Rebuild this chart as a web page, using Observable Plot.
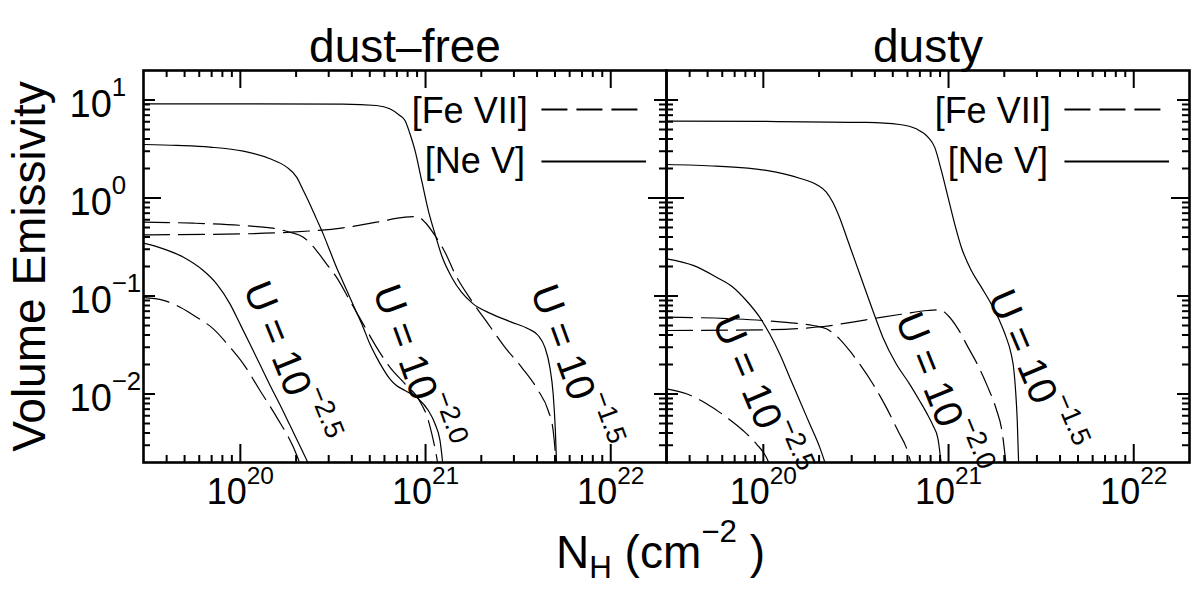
<!DOCTYPE html>
<html><head><meta charset="utf-8">
<script src="https://cdn.jsdelivr.net/npm/d3@7"></script>
<script src="https://cdn.jsdelivr.net/npm/@observablehq/plot@0.6"></script>
<style>
html,body{margin:0;padding:0;background:#fff;}
#chart svg{display:block;}
#chart text{white-space:pre;}
</style></head><body><div id="chart"></div>
<script>
// ---------- categories / labels ----------
const panels = ["dust–free", "dusty"];
const ions = ["[Fe VII]", "[Ne V]"];
const uLabels = ["U = 10{^−2.5}", "U = 10{^−2.0}", "U = 10{^−1.5}"];
const xMajorTicks = [1e20, 1e21, 1e22];
const xTickLabels = ["10{^20}", "10{^21}", "10{^22}"];
const xMinorTicks = [4e19, 5e19, 6e19, 7e19, 8e19, 9e19, 2e20, 3e20, 4e20, 5e20, 6e20, 7e20, 8e20, 9e20,
  2e21, 3e21, 4e21, 5e21, 6e21, 7e21, 8e21, 9e21];
const yMajorTicks = [10, 1, 0.1, 0.01];
const yTickLabels = ["10{^1}", "10{^0}", "10{^−1}", "10{^−2}"];
const yMinorTicks = [0.003, 0.004, 0.005, 0.006, 0.007, 0.008, 0.009, 0.02, 0.03, 0.04, 0.05, 0.06, 0.07, 0.08, 0.09,
  0.2, 0.3, 0.4, 0.5, 0.6, 0.7, 0.8, 0.9, 2, 3, 4, 5, 6, 7, 8, 9];
const yLabel = "Volume Emissivity";
const xLabel = "N{_H} (cm{^−2} )";

// ---------- series values: [log10 N_H, log10 emissivity] ----------
// dust-free
const df_NeV_m15 = [[19.477,0.961],[20.0,0.961],[20.555,0.958],[20.735,0.944],[20.807,0.91],[20.861,0.842],[20.889,0.791],[20.916,0.655],[20.943,0.485],[20.979,0.179],[21.015,-0.128],[21.051,-0.366],[21.087,-0.587],[21.141,-0.808],[21.194,-0.961],[21.257,-1.08],[21.356,-1.182],[21.464,-1.267],[21.554,-1.335],[21.608,-1.403],[21.644,-1.522],[21.671,-1.726],[21.689,-1.998],[21.701,-2.372],[21.709,-2.8]];
const df_FeVII_m15 = [[19.477,-0.376],[20.016,-0.366],[20.268,-0.349],[20.555,-0.304],[20.735,-0.247],[20.889,-0.196],[20.952,-0.189],[20.997,-0.247],[21.051,-0.383],[21.105,-0.553],[21.159,-0.774],[21.248,-1.046],[21.338,-1.284],[21.428,-1.522],[21.518,-1.726],[21.608,-1.964],[21.662,-2.168],[21.689,-2.372],[21.709,-2.8]];
const df_NeV_m20 = [[19.477,0.546],[19.657,0.536],[19.836,0.519],[20.016,0.478],[20.160,0.400],[20.250,0.315],[20.304,0.213],[20.340,0.077],[20.375,-0.06],[20.411,-0.213],[20.447,-0.366],[20.483,-0.536],[20.519,-0.706],[20.555,-0.859],[20.591,-1.012],[20.627,-1.165],[20.663,-1.318],[20.699,-1.488],[20.735,-1.624],[20.771,-1.743],[20.807,-1.845],[20.843,-1.913],[20.889,-1.964],[20.961,-2.049],[21.015,-2.168],[21.051,-2.304],[21.078,-2.474],[21.098,-2.8]];
const df_FeVII_m20 = [[19.477,-0.247],[19.747,-0.257],[20.016,-0.281],[20.196,-0.315],[20.268,-0.349],[20.340,-0.400],[20.411,-0.536],[20.465,-0.672],[20.519,-0.808],[20.591,-1.046],[20.663,-1.284],[20.735,-1.522],[20.807,-1.726],[20.889,-1.896],[20.961,-2.049],[21.015,-2.27],[21.042,-2.474],[21.075,-2.8]];
const df_NeV_m25 = [[19.477,-0.461],[19.585,-0.519],[19.693,-0.604],[19.800,-0.740],[19.872,-0.876],[19.944,-1.080],[19.998,-1.284],[20.052,-1.49],[20.106,-1.70],[20.160,-1.91],[20.214,-2.11],[20.268,-2.32],[20.322,-2.53],[20.390,-2.8]];
const df_FeVII_m25 = [[19.477,-1.017],[19.585,-1.044],[19.675,-1.114],[19.764,-1.216],[19.854,-1.335],[19.944,-1.522],[20.016,-1.692],[20.106,-1.964],[20.196,-2.236],[20.286,-2.542],[20.340,-2.8]];
// dusty
const dy_NeV_m15 = [[19.477,0.784],[20.016,0.781],[20.555,0.771],[20.735,0.750],[20.825,0.706],[20.889,0.621],[20.925,0.519],[20.961,0.281],[20.997,0.009],[21.033,-0.264],[21.069,-0.502],[21.123,-0.740],[21.177,-0.910],[21.230,-1.080],[21.275,-1.250],[21.311,-1.420],[21.338,-1.590],[21.353,-1.760],[21.362,-1.964],[21.371,-2.270],[21.380,-2.8]];
const dy_FeVII_m15 = [[19.477,-1.352],[20.016,-1.345],[20.322,-1.311],[20.555,-1.243],[20.735,-1.189],[20.889,-1.148],[20.952,-1.141],[20.997,-1.199],[21.051,-1.335],[21.105,-1.522],[21.159,-1.709],[21.212,-1.930],[21.257,-2.151],[21.288,-2.372],[21.315,-2.8]];
const dy_NeV_m20 = [[19.477,0.342],[19.747,0.325],[20.016,0.281],[20.196,0.202],[20.286,0.138],[20.340,0.060],[20.375,-0.043],[20.411,-0.196],[20.456,-0.434],[20.501,-0.672],[20.546,-0.910],[20.591,-1.148],[20.645,-1.420],[20.717,-1.692],[20.789,-1.896],[20.843,-2.066],[20.889,-2.219],[20.916,-2.321],[20.943,-2.457],[20.965,-2.8]];
const dy_FeVII_m20 = [[19.477,-1.216],[19.836,-1.233],[20.106,-1.267],[20.268,-1.301],[20.340,-1.335],[20.411,-1.437],[20.465,-1.556],[20.519,-1.692],[20.591,-1.896],[20.663,-2.134],[20.735,-2.406],[20.771,-2.542],[20.810,-2.8]];
const dy_NeV_m25 = [[19.477,-0.621],[19.621,-0.688],[19.747,-0.808],[19.836,-0.910],[19.908,-1.046],[19.980,-1.216],[20.034,-1.386],[20.088,-1.590],[20.142,-1.828],[20.196,-2.066],[20.250,-2.304],[20.304,-2.542],[20.350,-2.8]];
const dy_FeVII_m25 = [[19.477,-1.947],[19.585,-1.998],[19.693,-2.100],[19.800,-2.236],[19.890,-2.372],[19.962,-2.508],[20.016,-2.645],[20.050,-2.8]];

// U-label anchors in data units [log10 N_H, log10 emissivity, angle]
const uLabelAt_df = [[20.253,-1.689,68],[20.938,-1.73,70],[21.790,-1.73,70]];
const uLabelAt_dy = [[19.968,-2.026,67],[20.949,-2.005,68],[21.455,-1.77,67]];

// ---------- build tables ----------
const seriesList = [
  [panels[0], ions[1], df_NeV_m15], [panels[0], ions[0], df_FeVII_m15],
  [panels[0], ions[1], df_NeV_m20], [panels[0], ions[0], df_FeVII_m20],
  [panels[0], ions[1], df_NeV_m25], [panels[0], ions[0], df_FeVII_m25],
  [panels[1], ions[1], dy_NeV_m15], [panels[1], ions[0], dy_FeVII_m15],
  [panels[1], ions[1], dy_NeV_m20], [panels[1], ions[0], dy_FeVII_m20],
  [panels[1], ions[1], dy_NeV_m25], [panels[1], ions[0], dy_FeVII_m25]
];
const rows = seriesList.flatMap(([panel, ion, pts], k) =>
  pts.map(([ln, le]) => ({panel, ion, key: k, N: 10 ** ln, E: 10 ** le})));
const uRows = [
  ...uLabelAt_df.map(([ln, le, a], i) => ({panel: panels[0], N: 10 ** ln, E: 10 ** le, angle: a, text: uLabels[i]})),
  ...uLabelAt_dy.map(([ln, le, a], i) => ({panel: panels[1], N: 10 ** ln, E: 10 ** le, angle: a, text: uLabels[i]}))
];

// ---------- layout ----------
const W = 1191, H = 591, mL = 143, mR = 2, mT = 70, mB = 129;
const innerH = H - mT - mB;
const facetW = (W - mL - mR) / 2;
const dash = "26,9";

const chart = Plot.plot({
  width: W, height: H,
  marginLeft: mL, marginRight: mR, marginTop: mT, marginBottom: mB,
  style: {fontFamily: "'Liberation Sans', Arial, Helvetica, sans-serif", background: "white", color: "black", overflow: "visible"},
  x: {type: "log", domain: [3e19, 2e22], axis: null},
  y: {type: "log", domain: [0.002, 20], axis: null},
  fx: {domain: panels, padding: 0, axis: null},
  marks: [
    // curves
    Plot.line(rows.filter(d => d.ion === ions[1]), {x: "N", y: "E", z: "key", fx: "panel", stroke: "black", strokeWidth: 1.2, curve: "monotone-x", clip: true}),
    Plot.line(rows.filter(d => d.ion === ions[0]), {x: "N", y: "E", z: "key", fx: "panel", stroke: "black", strokeWidth: 1.2, strokeDasharray: dash, curve: "monotone-x", clip: true}),
    // ticks (inward, all sides)
    Plot.ruleX(xMajorTicks, {x: d => d, insetTop: innerH - 18, strokeWidth: 2}),
    Plot.ruleX(xMajorTicks, {x: d => d, insetBottom: innerH - 18, strokeWidth: 2}),
    Plot.ruleX(xMinorTicks, {x: d => d, insetTop: innerH - 7, strokeWidth: 2}),
    Plot.ruleX(xMinorTicks, {x: d => d, insetBottom: innerH - 7, strokeWidth: 2}),
    Plot.ruleY(yMajorTicks.filter(d => d === 1), {y: d => d, insetRight: facetW - 18, strokeWidth: 2}),
    Plot.ruleY(yMajorTicks.filter(d => d === 1), {y: d => d, insetLeft: facetW - 18, strokeWidth: 2}),
    Plot.ruleY(yMajorTicks.filter(d => d !== 1), {y: d => d, insetRight: facetW - 12, strokeWidth: 2}),
    Plot.ruleY(yMajorTicks.filter(d => d !== 1), {y: d => d, insetLeft: facetW - 12, strokeWidth: 2}),
    Plot.ruleY(yMinorTicks, {y: d => d, insetRight: facetW - 7, strokeWidth: 2}),
    Plot.ruleY(yMinorTicks, {y: d => d, insetLeft: facetW - 7, strokeWidth: 2}),
    Plot.frame({stroke: "black", strokeWidth: 2.6}),
    // tick labels
    Plot.text(xMajorTicks, {x: d => d, text: (d, i) => xTickLabels[i], frameAnchor: "bottom", textAnchor: "middle", dy: 41, fontSize: 36}),
    Plot.text(yMajorTicks, {y: d => d, fx: () => panels[0], text: (d, i) => yTickLabels[i], frameAnchor: "left", textAnchor: "start", dx: -74, dy: 5, fontSize: 38}),
    // titles & axis labels
    Plot.text(panels, {fx: d => d, text: d => d, frameAnchor: "top", textAnchor: "middle", dy: -41, fontSize: 46}),
    Plot.text([yLabel], {fx: () => panels[0], text: d => d, frameAnchor: "left", textAnchor: "middle", dx: -113, rotate: -90, fontSize: 46}),
    Plot.text([xLabel], {fx: () => panels[0], text: d => d, frameAnchor: "bottom-right", textAnchor: "middle", dx: -6, dy: 105, fontSize: 46}),
    // U labels
    Plot.text(uRows, {x: "N", y: "E", fx: "panel", text: "text", rotate: "angle", textAnchor: "middle", fontSize: 40}),
    // legend
    Plot.ruleY([8.0], {y: d => d, x1: 4.25e21, x2: 1.56e22, strokeWidth: 2, strokeDasharray: dash}),
    Plot.ruleY([2.36], {y: d => d, x1: 4.25e21, x2: 1.56e22, strokeWidth: 2}),
    Plot.text([ions[0]], {text: d => d, x: 3.56e21, y: 7.6, textAnchor: "end", fontSize: 36}),
    Plot.text([ions[1]], {text: d => d, x: 3.44e21, y: 2.36, textAnchor: "end", fontSize: 36})
  ]
});
document.getElementById("chart").appendChild(chart);

// ---------- rich text: {^sup} and {_sub} ----------
function richify(svg) {
  const NS = "http://www.w3.org/2000/svg";
  svg.querySelectorAll("text").forEach(t => {
    const s = t.textContent;
    if (!/\{[\^_]/.test(s)) return;
    const F = parseFloat(getComputedStyle(t).fontSize) || 16;
    t.textContent = "";
    let shift = 0;
    const add = (str, mode) => {
      const ts = document.createElementNS(NS, "tspan");
      const target = mode === "^" ? -0.55 * F : mode === "_" ? 0.22 * F : 0;
      const dy = target - shift; shift = target;
      if (dy) ts.setAttribute("dy", dy.toFixed(2));
      if (mode) ts.setAttribute("font-size", (0.68 * F).toFixed(2));
      ts.textContent = str;
      t.appendChild(ts);
    };
    const re = /\{([\^_])([^}]*)\}/g;
    let last = 0, m;
    while ((m = re.exec(s))) {
      if (m.index > last) add(s.slice(last, m.index), null);
      add(m[2], m[1]);
      last = re.lastIndex;
    }
    if (last < s.length) add(s.slice(last), null);
  });
}
richify(chart);
</script></body></html>
